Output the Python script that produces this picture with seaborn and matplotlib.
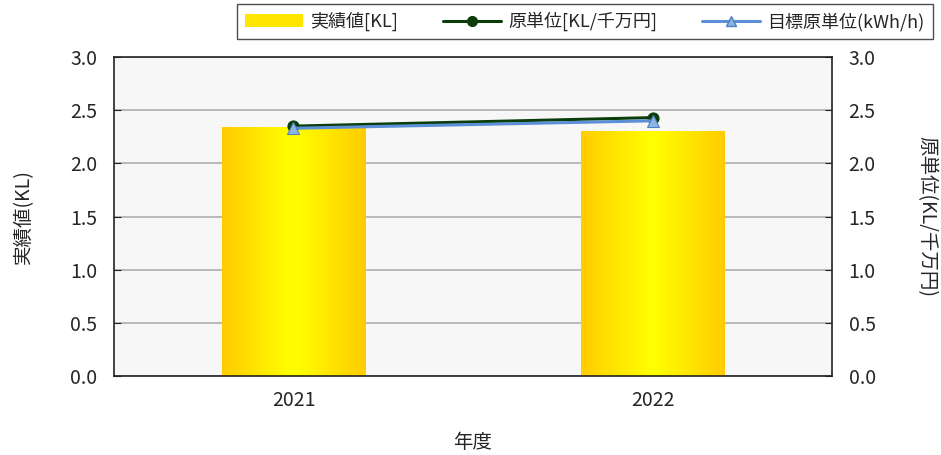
import numpy as np
import matplotlib
matplotlib.use('Agg')
import matplotlib.pyplot as plt
import seaborn as sns
from matplotlib.patches import Patch
from matplotlib.lines import Line2D

# data
years = ['2021', '2022']
actual_kl = [2.34, 2.30]
unit_kl = [2.35, 2.43]
target_unit = [2.33, 2.40]

sns.set_style('white')
plt.rcParams['font.family'] = ['Noto Sans CJK JP', 'DejaVu Sans']

fig = plt.figure(figsize=(9.41, 4.55), dpi=100)
ax = fig.add_axes([0.1211, 0.1736, 0.7631, 0.7011])
ax.set_facecolor('#F7F7F7')

sns.barplot(x=years, y=actual_kl, ax=ax, width=0.4, color='#FFD700',
            edgecolor='none', zorder=2)

# horizontal gold -> yellow -> gold gradient on each bar
grad = np.abs(np.linspace(-1, 1, 256))
cmap = matplotlib.colors.LinearSegmentedColormap.from_list(
    'gold', ['#FFFF00', '#FFE600', '#FFCC00'])
for p in ax.patches:
    x0, y0 = p.get_x(), p.get_y()
    w, h = p.get_width(), p.get_height()
    p.set_facecolor('none')
    im = ax.imshow(grad[np.newaxis, :], cmap=cmap, aspect='auto',
                   extent=[x0, x0 + w, y0, y0 + h], zorder=2)
    im.set_clip_path(p)

ticks = np.arange(0, 3.01, 0.5)
ax.set_xlim(-0.5, 1.5)
ax.set_ylim(0, 3.0)
ax.set_yticks(ticks)
ax.set_yticklabels([f'{v:.1f}' for v in ticks])
ax.yaxis.grid(True, color='#B0B0B0', linewidth=1.2, zorder=0)
ax.set_axisbelow(True)
ax.set_xticks([0, 1])
ax.set_xticklabels(years)
ax.set_xticks([0.5], minor=True)
ax.tick_params(axis='x', which='major', length=0, labelsize=14, pad=10)
ax.tick_params(axis='x', which='minor', direction='in', length=5, color='#222222')
ax.tick_params(axis='y', direction='in', length=5, labelsize=14, pad=12,
               color='#222222', left=True)
for s in ax.spines.values():
    s.set_color('#222222')
    s.set_linewidth(1.2)
ax.set_xlabel('年度', fontsize=14, labelpad=15)
ax.set_ylabel('実績値(KL)', fontsize=14, labelpad=26)

ax2 = ax.twinx()
x_idx = np.arange(len(years))
sns.lineplot(x=x_idx, y=unit_kl, ax=ax2, color='#0B3D0B', linewidth=2.2,
             marker='o', markersize=8, markeredgecolor='#0B3D0B', zorder=4)
sns.lineplot(x=x_idx, y=target_unit, ax=ax2, color='#5B8FD6', linewidth=2.2,
             marker='^', markersize=9, markerfacecolor='#8DB3E2',
             markeredgecolor='#4F81BD', zorder=5)
ax2.set_xlim(-0.5, 1.5)
ax2.set_ylim(0, 3.0)
ax2.set_yticks(ticks)
ax2.set_yticklabels([f'{v:.1f}' for v in ticks])
ax2.tick_params(axis='y', direction='in', length=5, labelsize=14, pad=12,
                color='#222222', right=True)
for s in ax2.spines.values():
    s.set_visible(False)
ax2.set_ylabel('原単位(KL/千万円)', fontsize=14, rotation=270, labelpad=44)

handles = [
    Patch(facecolor='#FFE600', edgecolor='none', label='実績値[KL]'),
    Line2D([0], [0], color='#0B3D0B', linewidth=2.2, marker='o', markersize=7,
           label='原単位[KL/千万円]'),
    Line2D([0], [0], color='#5B8FD6', linewidth=2.2, marker='^', markersize=7,
           markerfacecolor='#8DB3E2', markeredgecolor='#4F81BD',
           label='目標原単位(kWh/h)'),
]
leg = fig.legend(handles=handles, loc='center', ncol=3,
                 bbox_to_anchor=(0.6217, 0.9527), frameon=True, fancybox=False,
                 fontsize=13, handlelength=3.2, handleheight=0.7,
                 columnspacing=2.5, borderpad=0.45, borderaxespad=0,
                 handletextpad=0.4)
leg.get_frame().set_edgecolor('#222222')
leg.get_frame().set_linewidth(1.0)

fig.savefig('out.png', dpi=100)
